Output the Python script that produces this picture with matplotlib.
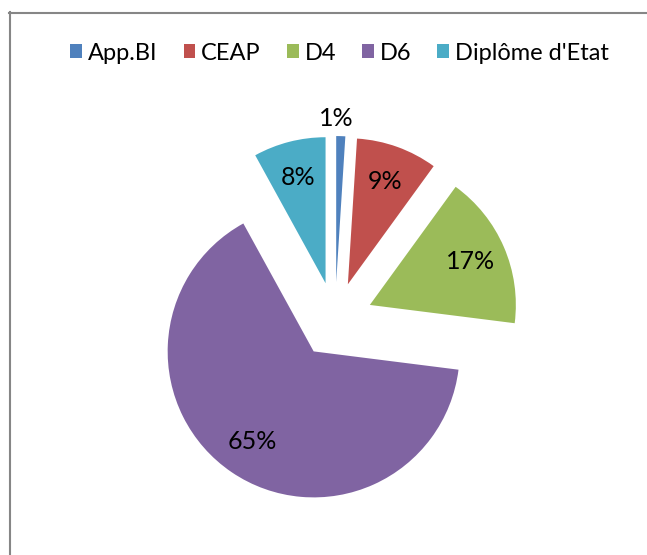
#!/usr/bin/env python3
"""
Exploded pie chart of diploma distribution (App.BI, CEAP, D4, D6, Diplome d'Etat).
"""

import numpy as np
import matplotlib
matplotlib.use('Agg')
import matplotlib.pyplot as plt
from matplotlib.lines import Line2D

# Data
categories = ['App.BI', 'CEAP', 'D4', 'D6', "Diplôme d'Etat"]
shares = [1, 9, 17, 65, 8]
colors = ['#4F81BD', '#C0504D', '#9BBB59', '#8064A2', '#4BACC6']

plt.rcParams['font.family'] = ['Lato', 'DejaVu Sans']

W, H = 647, 555
fig = plt.figure(figsize=(W / 100, H / 100), dpi=100)
ax = fig.add_axes([0, 0, 1, 1])

# Pie in pixel units (y up)
radius = 146
center = (335, H - 320)
explode = [0.26 * radius] * len(shares)

wedges, texts, autotexts = ax.pie(
    shares, colors=colors, startangle=90, counterclock=False,
    center=center, radius=radius, explode=explode,
    autopct='%1.0f%%', pctdistance=0.75,
    textprops=dict(fontsize=18, color='black'),
    wedgeprops=dict(linewidth=0), frame=False)

# The tiny slice gets its label outside
w = wedges[0]
mid = np.deg2rad((w.theta1 + w.theta2) / 2)
cx, cy = w.center
autotexts[0].set_position((cx + 1.12 * radius * np.cos(mid) - 5,
                           cy + 1.12 * radius * np.sin(mid)))

ax.set_xlim(0, W)
ax.set_ylim(0, H)
ax.set_aspect('equal')
ax.axis('off')

# Legend
fig.legend(wedges, categories, loc='center', bbox_to_anchor=(0.525, 1 - 53 / H),
           ncol=5, frameon=False, fontsize=17, handlelength=0.5,
           handleheight=0.5, handletextpad=0.25, columnspacing=1.1)

# Chart border (only top and left visible)
fig.add_artist(Line2D([9.5 / W, 9.5 / W], [0, 1 - 12 / H],
                      transform=fig.transFigure, color='#868686', lw=1.5))
fig.add_artist(Line2D([9 / W, 1], [1 - 12.5 / H, 1 - 12.5 / H],
                      transform=fig.transFigure, color='#868686', lw=1.5))

plt.savefig('out.png', dpi=100)
plt.close()
